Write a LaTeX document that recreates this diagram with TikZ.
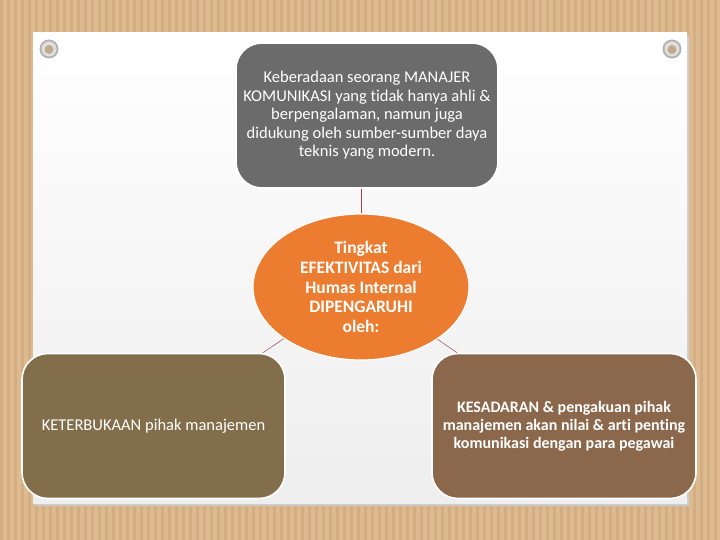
\documentclass[tikz,border=0pt]{standalone}
\usepackage{fontspec}
\setmainfont{Carlito}[Ligatures=CommonOff]
\usepackage{tikz}
\usetikzlibrary{positioning,shapes.geometric}
\definecolor{tanbg}{HTML}{DDBA90}
\definecolor{tanstripe}{HTML}{D3AE83}
\definecolor{paper}{HTML}{F5F5F5}
\definecolor{topgray}{HTML}{6B6B6B}
\definecolor{midorange}{HTML}{EC7C30}
\definecolor{leftbrown}{HTML}{836E4B}
\definecolor{rightbrown}{HTML}{8B674B}
\definecolor{linkred}{HTML}{A8454A}
\tikzset{
  box/.style={rectangle,rounded corners=26pt,draw=white,line width=1.6pt,
    text=white,align=center,minimum width=262pt,minimum height=145pt,inner sep=4pt},
  hub/.style={ellipse,draw=white,line width=1.2pt,fill=midorange,text=white,
    align=center,minimum width=216pt,minimum height=146pt,inner sep=0pt},
  link/.style={linkred,line width=0.5pt},
  every node/.style={font=\fontsize{16.5}{18.5}\selectfont}
}

\begin{document}
\begin{tikzpicture}[x=1pt,y=-1pt]
  % Canvas
  \useasboundingbox (0,0) rectangle (720,540);
  \fill[tanbg] (0,0) rectangle (720,540);
  \foreach \i in {0,7,...,720}
    \fill[tanstripe] (\i,0) rectangle ++(3,540);

  % Paper sheet with shadow
  \fill[black!20] (35,36) rectangle (689,506);
  \shade[top color=white,bottom color=paper!97!black] (33,33) rectangle (687,503);

  % Eyelets
  \foreach \ex in {49,672} {
    \fill[gray!60] (\ex,49) circle (9.5);
    \fill[gray!25] (\ex,49) circle (7.5);
    \fill[tanbg!70!gray] (\ex,49.5) circle (4.5);
  }

  % Boxes
  \node[box,fill=topgray] (keberadaan) at (367,115.5)
    {Keberadaan seorang MANAJER\\KOMUNIKASI yang tidak hanya ahli \&\\
     berpengalaman, namun juga\\didukung oleh sumber-sumber daya\\teknis yang modern.};
  \node[hub,font=\bfseries\fontsize{17.5}{19.7}\selectfont] (tingkat) at (361,287)
    {Tingkat\\EFEKTIVITAS dari\\Humas Internal\\DIPENGARUHI\\oleh:};
  \node[box,fill=leftbrown,minimum width=263pt] (keterbukaan) at (153.5,426)
    {KETERBUKAAN pihak manajemen};
  \node[box,fill=rightbrown,minimum width=264pt,
    font=\bfseries\fontsize{16}{18}\selectfont] (kesadaran) at (564,426)
    {KESADARAN \& pengakuan pihak\\manajemen akan nilai \& arti penting\\
     komunikasi dengan para pegawai};

  % Links
  \draw[link] (keberadaan.south -| tingkat.north) -- (tingkat.north);
  \draw[link] (tingkat) -- (keterbukaan);
  \draw[link] (tingkat) -- (kesadaran);
\end{tikzpicture}
\end{document}
